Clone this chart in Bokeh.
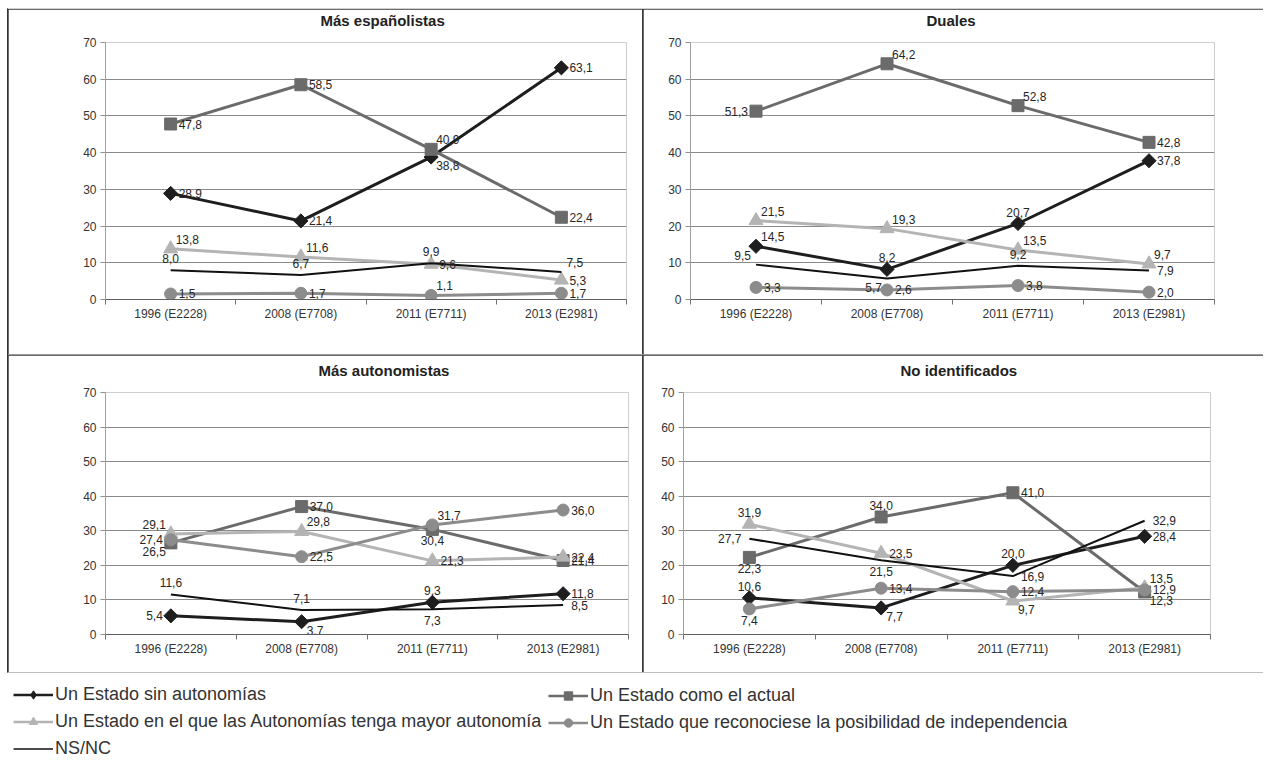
from bokeh.plotting import figure
from bokeh.models import ColumnDataSource, FixedTicker, Range1d, Legend, LegendItem, Title
from bokeh.layouts import row, column
from bokeh.embed import file_html
from bokeh.resources import INLINE
from bokeh.core.properties import value
import math

# ---------------- data ----------------
categories = ["1996 (E2228)", "2008 (E7708)", "2011 (E7711)", "2013 (E2981)"]
series_names = [
    "Un Estado sin autonomías",
    "Un Estado como el actual",
    "Un Estado en el que las Autonomías tenga mayor autonomía",
    "Un Estado que reconociese la posibilidad de independencia",
    "NS/NC",
]
panel_titles = ["Más españolistas", "Duales", "Más autonomistas", "No identificados"]
y_ticks = [0, 10, 20, 30, 40, 50, 60, 70]

esp_sin = [28.9, 21.4, 38.8, 63.1]
esp_actual = [47.8, 58.5, 40.9, 22.4]
esp_mayor = [13.8, 11.6, 9.6, 5.3]
esp_indep = [1.5, 1.7, 1.1, 1.7]
esp_nsnc = [8.0, 6.7, 9.9, 7.5]

dua_sin = [14.5, 8.2, 20.7, 37.8]
dua_actual = [51.3, 64.2, 52.8, 42.8]
dua_mayor = [21.5, 19.3, 13.5, 9.7]
dua_indep = [3.3, 2.6, 3.8, 2.0]
dua_nsnc = [9.5, 5.7, 9.2, 7.9]

aut_sin = [5.4, 3.7, 9.3, 11.8]
aut_actual = [26.5, 37.0, 30.4, 21.4]
aut_mayor = [29.1, 29.8, 21.3, 22.4]
aut_indep = [27.4, 22.5, 31.7, 36.0]
aut_nsnc = [11.6, 7.1, 7.3, 8.5]

noi_sin = [10.6, 7.7, 20.0, 28.4]
noi_actual = [22.3, 34.0, 41.0, 12.3]
noi_mayor = [31.9, 23.5, 9.7, 13.5]
noi_indep = [7.4, 13.4, 12.4, 12.9]
noi_nsnc = [27.7, 21.5, 16.9, 32.9]

panel_series = [
    [esp_sin, esp_actual, esp_mayor, esp_indep, esp_nsnc],
    [dua_sin, dua_actual, dua_mayor, dua_indep, dua_nsnc],
    [aut_sin, aut_actual, aut_mayor, aut_indep, aut_nsnc],
    [noi_sin, noi_actual, noi_mayor, noi_indep, noi_nsnc],
]

# ---------------- styling / layout ----------------
FONT = "Liberation Sans"
STYLES = [
    dict(color="#1e1e1e", marker="square", legend_marker="diamond", angle=math.pi / 4, size=10, lw=3),
    dict(color="#6b6b6b", marker="square", legend_marker="square", angle=0.0, size=12, lw=3),
    dict(color="#b4b4b4", marker="triangle", legend_marker="triangle", angle=0.0, size=14, lw=3),
    dict(color="#8c8c8c", marker="circle", legend_marker="circle", angle=0.0, size=12, lw=3),
    dict(color="#111111", marker=None, legend_marker=None, angle=0.0, size=0, lw=2),
]

# label placement codes per panel / series / point
LABEL_POS = [
    [["r", "r", "br", "r"], ["r", "r", "ar", "r"], ["ar", "ar", "r", "r"], ["r", "r", "ar", "r"], ["a", "a", "a", "ar"]],
    [["ar", "a", "a", "r"], ["l", "ar", "ar", "r"], ["ar", "ar", "ar", "ar"], ["r", "r", "r", "r"], ["al", "bl", "a", "r"]],
    [["l", "br", "a", "r"], ["bl", "r", "b", "r"], ["al", "ar", "r", "r"], ["l", "r", "ar", "r"], ["a", "a", "b", "r"]],
    [["a", "br", "a", "r"], ["b", "a", "r", "br"], ["a", "r", "br", "ar"], ["b", "r", "r", "r"], ["l", "b", "r", "r"]],
]
OFF = {
    "r": (8, 0, "left", "middle"),
    "l": (-8, 0, "right", "middle"),
    "a": (0, -7, "center", "bottom"),
    "b": (0, 7, "center", "top"),
    "ar": (5, -5, "left", "bottom"),
    "br": (5, 4, "left", "top"),
    "al": (-5, -5, "right", "bottom"),
    "bl": (-5, 4, "right", "top"),
}

# figure size, borders around the plot frame, title offset from frame left
GEOM = [
    dict(w=634, h=345, left=97, right=16, top=33, bottom=55, toff=215),
    dict(w=620, h=345, left=47, right=49, top=33, bottom=52, toff=236),
    dict(w=634, h=317, left=97, right=14, top=36, bottom=38, toff=213),
    dict(w=620, h=317, left=40, right=53, top=37, bottom=34, toff=217),
]


def fmt(v):
    return f"{v:.1f}".replace(".", ",")


def make_panel(idx):
    g = GEOM[idx]
    xs = list(range(1, len(categories) + 1))
    p = figure(
        width=g["w"], height=g["h"], output_backend="svg", toolbar_location=None,
        x_range=Range1d(0.5, len(categories) + 0.5), y_range=Range1d(y_ticks[0], y_ticks[-1]),
        min_border_left=g["left"], min_border_right=g["right"],
        min_border_top=g["top"], min_border_bottom=g["bottom"],
    )
    p.title.visible = False
    p.outline_line_color = None
    p.border_fill_color = "white"
    p.background_fill_color = "white"

    # spacer between frame and title, then the title itself
    p.add_layout(Title(text=" ", text_font=FONT, text_font_size="11px", standoff=0), "above")
    p.add_layout(Title(text=panel_titles[idx], align="left", offset=g["toff"], standoff=0,
                       text_font=FONT, text_font_size="15px", text_font_style="bold",
                       text_color="#222222"), "above")

    # x axis
    p.xaxis.ticker = FixedTicker(ticks=xs, minor_ticks=[x - 0.5 for x in xs] + [xs[-1] + 0.5])
    p.xaxis.major_label_overrides = {x: c for x, c in zip(xs, categories)}
    p.xaxis.major_tick_out = 0
    p.xaxis.major_tick_in = 0
    p.xaxis.minor_tick_out = 5
    p.xaxis.minor_tick_in = 0
    p.xaxis.minor_tick_line_color = "#707070"
    p.xaxis.axis_line_color = "#606060"
    p.xaxis.major_label_standoff = 2
    p.xaxis.major_label_text_font = FONT
    p.xaxis.major_label_text_font_size = "12px"
    p.xaxis.major_label_text_color = "#333333"
    p.xgrid.visible = False

    # y axis
    p.yaxis.ticker = FixedTicker(ticks=y_ticks)
    p.yaxis.minor_tick_line_color = None
    p.yaxis.major_tick_out = 5
    p.yaxis.major_tick_in = 0
    p.yaxis.major_tick_line_color = "#909090"
    p.yaxis.axis_line_color = "#a0a0a0"
    p.yaxis.major_label_standoff = 4
    p.yaxis.major_label_text_font = FONT
    p.yaxis.major_label_text_font_size = "12px"
    p.yaxis.major_label_text_color = "#333333"
    p.ygrid.ticker = FixedTicker(ticks=y_ticks)
    p.ygrid.grid_line_color = "#8a8a8a"
    p.ygrid.grid_line_width = 1

    lx, ly, lt, lxo, lyo, la, lb = [], [], [], [], [], [], []
    for s, vals in enumerate(panel_series[idx]):
        st = STYLES[s]
        p.line(xs, vals, line_color=st["color"], line_width=st["lw"])
        if st["marker"]:
            p.scatter(xs, vals, marker=st["marker"], size=st["size"], angle=st["angle"],
                      fill_color=st["color"], line_color=st["color"])
        for j, v in enumerate(vals):
            code = LABEL_POS[idx][s][j]
            xo, yo, al, bl = OFF[code]
            lx.append(xs[j]); ly.append(v); lt.append(fmt(v))
            lxo.append(xo); lyo.append(yo); la.append(al); lb.append(bl)
    src = ColumnDataSource(dict(x=lx, y=ly, t=lt, xo=lxo, yo=lyo, a=la, b=lb))
    p.text(x="x", y="y", text="t", x_offset="xo", y_offset="yo",
           text_align="a", text_baseline="b", source=src,
           text_font=value(FONT), text_font_size="12px", text_color="#262626")
    return p


panels = [make_panel(i) for i in range(4)]

top_row = row(panels[0], panels[1], spacing=1, styles={"background-color": "#3a3a3a"})
bot_row = row(panels[2], panels[3], spacing=1, styles={"background-color": "#3a3a3a"})
grid = column(top_row, bot_row, spacing=1, margin=(8, 0, 0, 7),
              styles={"background-color": "#9a9a9a",
                      "border-left": "1px solid #333333",
                      "border-top": "1px solid #d0d0d0",
                      "border-bottom": "1px solid #bdbdbd"})

# ---------------- legend ----------------
# The legend figure's view is placed away from the data so only the legend shows.
lp = figure(width=1260, height=86, output_backend="svg", toolbar_location=None,
            x_range=Range1d(0.5, len(categories) + 0.5), y_range=Range1d(-30, -20), min_border=0,
            x_axis_location=None, y_axis_location=None)
lp.xgrid.visible = False
lp.ygrid.visible = False
lp.outline_line_color = None

items = []
xs_leg = list(range(1, len(categories) + 1))
for s, name in enumerate(series_names):
    st = STYLES[s]
    vals = panel_series[0][s]
    rs = [lp.line(xs_leg, vals, line_color=st["color"], line_width=2.5 if st["marker"] else 1.5)]
    if st["legend_marker"]:
        rs.append(lp.scatter(xs_leg, vals, marker=st["legend_marker"], size=st["size"],
                             fill_color=st["color"], line_color=st["color"]))
    items.append(LegendItem(label=name, renderers=rs))


def make_legend(its, loc):
    return Legend(items=its, location=loc, orientation="vertical",
                  glyph_width=40, glyph_height=21, label_height=21, label_standoff=2,
                  spacing=6, padding=0, margin=0, border_line_color=None,
                  background_fill_alpha=0, label_text_font=FONT,
                  label_text_font_size="18px", label_text_color="#333333")


lp.add_layout(make_legend([items[0], items[2], items[4]], (13, 0)))
lp.add_layout(make_legend([items[1], items[3]], (548, 26)))

page = column(grid, lp, spacing=0)

open("out.html", "w").write(file_html(page, INLINE))
